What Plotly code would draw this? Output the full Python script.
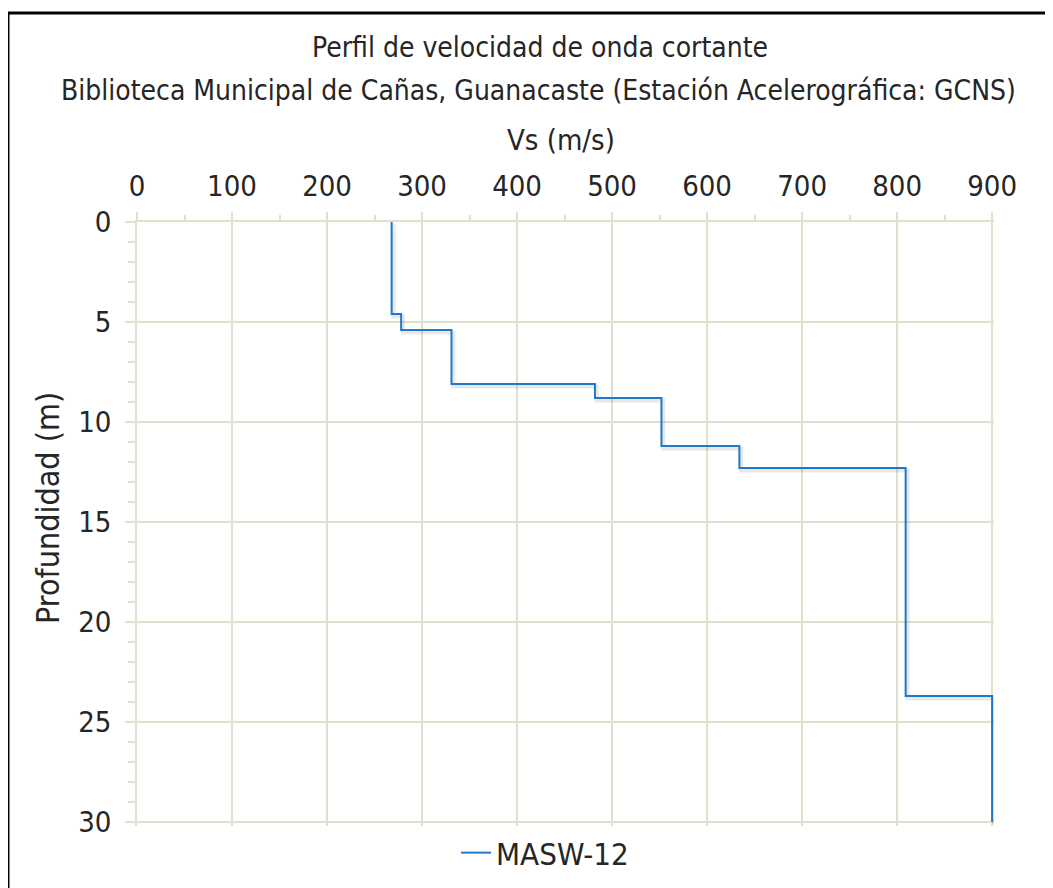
import plotly.graph_objects as go

# Layer data
layer_vs = [268, 278, 331, 482, 552, 634, 809, 900]          # Vs (m/s)
layer_top = [0, 4.6, 5.4, 8.1, 8.8, 11.2, 12.3, 23.7]        # top depth (m)
max_depth = 30
x_ticks = [0, 100, 200, 300, 400, 500, 600, 700, 800, 900]
y_ticks = [0, 5, 10, 15, 20, 25, 30]
series_name = "MASW-12"
title_1 = "Perfil de velocidad de onda cortante"
title_2 = "Biblioteca Municipal de Cañas, Guanacaste (Estación Acelerográfica: GCNS)"
x_title = "Vs (m/s)"
y_title = "Profundidad (m)"

# build step profile
bottoms = layer_top[1:] + [max_depth]
xs, ys = [], []
for v, t, b in zip(layer_vs, layer_top, bottoms):
    xs += [v, v]
    ys += [t, b]

FONT = "DejaVu Sans Condensed"
TXT = "#262626"
GRID = "#e3dfce"

OFF = 8  # page body margin
W, H = 1053 - OFF, 888 - OFF
XR = [0, 902]
YR = [30.2, 0]
# plot area in screen pixels: x 0->137, 900->992 ; y 0->222, 30->822
sx0, sx900, sy0, sy30 = 137, 992, 222, 822
pw = (sx900 - sx0) * (XR[1] - XR[0]) / 900
ph = (sy30 - sy0) * (YR[0] - YR[1]) / 30
L = sx0 - OFF
T = sy0 - OFF
R = W - L - pw
B = H - T - ph

def px_x(p):
    return (p - OFF - L) / pw

def px_y(p):
    return (T + ph - (p - OFF)) / ph

fig = go.Figure()
# soft shadow
fig.add_trace(go.Scatter(x=[x + 2 for x in xs], y=[y + 0.12 for y in ys], mode="lines",
                         line=dict(color="rgba(0,0,0,0.09)", width=4),
                         showlegend=False, hoverinfo="skip"))
fig.add_trace(go.Scatter(x=xs, y=ys, mode="lines", name=series_name,
                         line=dict(color="#1f78cc", width=2)))

fig.update_layout(
    width=W, height=H,
    margin=dict(l=L, r=R, t=T, b=B, pad=0, autoexpand=False),
    paper_bgcolor="white", plot_bgcolor="white",
    font=dict(family=FONT, size=29, color=TXT),
    showlegend=True,
    legend=dict(orientation="h", x=px_x(545), xanchor="center", y=px_y(853), yanchor="middle",
                font=dict(size=31), itemwidth=30),
    xaxis=dict(side="top", range=XR, tickvals=x_ticks, showgrid=True, gridcolor=GRID,
               gridwidth=1.5, showline=True, linecolor=GRID, linewidth=1.5,
               ticks="outside", ticklen=8, tickcolor=GRID, tickwidth=1.5, zeroline=False,
               ticklabelstandoff=5,
               minor=dict(dtick=50, ticks="outside", ticklen=5, tickcolor=GRID, showgrid=False),
               tickfont=dict(size=29)),
    yaxis=dict(range=YR, tickvals=y_ticks, showgrid=True, gridcolor=GRID,
               gridwidth=1.5, showline=True, linecolor=GRID, linewidth=1.5,
               ticks="outside", ticklen=10, tickcolor=GRID, tickwidth=1.5, zeroline=False,
               ticklabelstandoff=8,
               minor=dict(dtick=1, ticks="outside", ticklen=7, tickcolor=GRID, showgrid=False),
               tickfont=dict(size=29)),
    annotations=[
        dict(text=title_1, xref="paper", yref="paper", x=px_x(540), y=px_y(48),
             xanchor="center", yanchor="middle", showarrow=False, font=dict(size=28)),
        dict(text=title_2, xref="paper", yref="paper", x=px_x(538), y=px_y(90),
             xanchor="center", yanchor="middle", showarrow=False, font=dict(size=28)),
        dict(text=x_title, xref="paper", yref="paper", x=px_x(561), y=px_y(140),
             xanchor="center", yanchor="middle", showarrow=False, font=dict(size=29)),
        dict(text=y_title, xref="paper", yref="paper", x=px_x(48), y=px_y(508),
             xanchor="center", yanchor="middle", showarrow=False, textangle=-90,
             font=dict(size=32)),
    ],
    shapes=[dict(type="rect", xref="paper", yref="paper",
                 x0=px_x(8), x1=px_x(1070), y0=px_y(900), y1=px_y(13),
                 line=dict(color="black", width=3), fillcolor="rgba(0,0,0,0)", layer="above")],
)

fig.write_html("out.html")
